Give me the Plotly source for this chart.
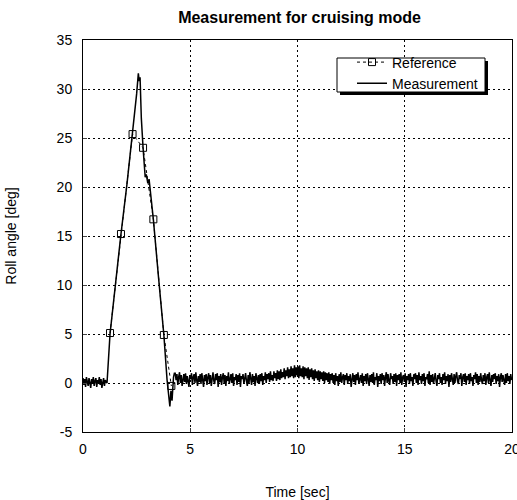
import plotly.graph_objects as go

# ---------------- data ----------------
# Reference (square markers)
ref_t = [1.26, 1.77, 2.31, 2.80, 3.28, 3.77, 4.12]
ref_y = [5.1, 15.2, 25.4, 24.0, 16.7, 4.9, -0.3]

# Measurement: initial rest segment (sampled every 0.04 s from t = 0)
rest_start = 0.0
rest_step = 0.04
rest_y = [0.5, -0.2, 0.4, -0.4, 0.6, 0.0, -0.3, 0.5, 0.1, -0.5, 0.4, -0.1, 0.6, -0.3,
          0.2, 0.5, -0.4, 0.3, 0.0, 0.6, -0.2, 0.4, -0.5, 0.2, 0.5, -0.3, 0.3, 0.1]

# Measurement: manoeuvre segment
man_t = [1.12, 1.26, 1.50, 1.77, 2.05, 2.31, 2.50, 2.58, 2.62, 2.66, 2.72, 2.80,
         2.90, 2.95, 3.02, 3.08, 3.28, 3.52, 3.77, 3.92, 4.00, 4.05, 4.10, 4.15,
         4.22, 4.26]
man_y = [0.0, 5.0, 10.0, 15.2, 20.3, 25.4, 29.5, 31.6, 30.8, 31.2, 27.0, 24.0,
         21.0, 21.3, 20.4, 20.8, 16.7, 10.8, 4.9, 0.3, -1.5, -2.4, -0.8, -1.8,
         0.6, 1.0]

# Measurement: cruising segment (sampled every 0.04 s from t = 4.30)
cruise_start = 4.30
cruise_step = 0.04
cruise_y = [
    1.0, 0.3, 0.9, -0.2, 0.6, 1.1, 0.0, 0.8, -0.3, 0.5, 0.9, 0.1, 1.0, -0.1, 0.7, 0.2, -0.4, 0.8, 0.4, 1.0,
    -0.2, 0.6, 0.9, 0.0, 1.1, 0.3, -0.3, 0.7, 0.1, 0.9, -0.1, 1.0, 0.4, -0.4, 0.8, 0.2, 0.9, -0.2, 0.6, 1.0,
    0.0, 0.8, -0.3, 0.5, 1.1, 0.2, -0.1, 0.9, 0.3, 1.0, -0.4, 0.7, 0.1, 0.9, -0.2, 0.6, 1.0, 0.0, 0.8, -0.3,
    0.7, 0.2, 1.1, -0.1, 0.5, 0.9, 0.0, 1.0, -0.3, 0.6, 0.3, 0.9, -0.2, 0.8, 0.1, 1.0, -0.4, 0.7, 0.4, 0.9,
    -0.1, 0.6, 1.0, 0.2, -0.3, 0.8, 0.0, 1.1, 0.3, -0.2, 0.9, 0.1, 0.7, -0.3, 1.0, 0.4, 0.0, 0.8, -0.1, 0.9,
    0.2, 1.0, -0.2, 0.7, 0.3, 1.1, 0.0, 0.9, 0.4, 1.0, 0.1, 1.2, 0.3, 0.8, 0.2, 1.2, 0.5, 1.0, 0.2, 1.3,
    0.4, 1.2, 0.3, 1.4, 0.5, 1.1, 0.6, 1.5, 0.4, 1.3, 0.7, 1.6, 0.5, 1.4, 0.6, 1.7, 0.7, 1.5, 0.5, 1.8,
    0.6, 1.6, 0.8, 1.7, 0.5, 1.8, 0.7, 1.5, 0.6, 1.7, 0.4, 1.6, 0.7, 1.5, 0.5, 1.6, 0.3, 1.4, 0.6, 1.5,
    0.4, 1.3, 0.2, 1.4, 0.5, 1.2, 0.3, 1.3, 0.1, 1.2, 0.4, 1.1, 0.2, 1.2, 0.0, 1.1, 0.3, 1.0, 0.1, 1.1,
    -0.1, 0.9, 0.3, 1.0, 0.0, 0.8, -0.2, 1.0, 0.2, 0.7, -0.3, 0.9, 0.1, 1.1, 0.0, 0.6, 0.9, -0.2, 0.8, 0.3,
    1.0, -0.1, 0.7, 0.2, 0.9, -0.4, 0.6, 1.0, 0.1, 0.8, -0.2, 0.9, 0.3, 1.1, -0.1, 0.5, 0.8, 0.0, 1.0, -0.3,
    0.7, 0.2, 0.9, -0.1, 1.0, 0.4, -0.3, 0.8, 0.1, 0.9, 0.0, 1.1, -0.2, 0.6, 0.3, 1.0, -0.4, 0.7, 0.2, 0.9,
    -0.1, 1.0, 0.3, 0.8, -0.3, 0.6, 1.1, 0.0, 0.9, 0.2, -0.2, 1.0, 0.4, 0.7, -0.1, 0.9, 0.1, 1.0, -0.3, 0.8,
    0.3, 0.9, 0.0, 1.1, -0.2, 0.6, 0.8, 0.1, 1.0, -0.4, 0.7, 0.3, 0.9, -0.1, 1.0, 0.2, 0.6, -0.3, 0.9, 0.4,
    1.0, 0.0, 0.8, -0.2, 1.1, 0.3, 0.7, -0.1, 0.9, 0.2, 1.0, -0.3, 0.6, 0.4, 0.9, 0.0, 1.2, -0.2, 0.8, 0.1,
    0.9, -0.1, 0.7, 1.0, 0.2, -0.3, 0.8, 0.4, 1.0, 0.0, 0.6, -0.2, 0.9, 0.3, 1.1, -0.1, 0.7, 0.2, 0.9, -0.4,
    0.8, 0.1, 1.0, 0.3, -0.2, 0.9, 0.0, 0.7, 1.1, 0.2, -0.1, 0.8, 0.4, 1.0, -0.3, 0.6, 0.9, 0.1, 1.0, -0.2,
    0.7, 0.3, 0.9, -0.1, 1.0, 0.2, 0.6, -0.3, 0.8, 0.4, 1.1, 0.0, 0.9, -0.2, 0.7, 0.1, 1.0, 0.3, -0.1, 0.8,
    0.2, 1.0, -0.2, 0.6, 0.9, 0.0, 1.1, 0.3, -0.3, 0.8, 0.1, 0.9, 0.4, 1.0, -0.1, 0.7, 0.2, 0.9, -0.4, 0.6,
    1.0, 0.1, 0.8, 0.3, -0.2, 0.9, 0.0, 1.0, 0.2, 0.7, -0.1, 0.9, 0.3,
]

x_ticks = [0, 5, 10, 15, 20]
x_tick_labels = ["0", "5", "10", "15", "20"]
y_ticks = [-5, 0, 5, 10, 15, 20, 25, 30, 35]
y_tick_labels = ["-5", "0", "5", "10", "15", "20", "25", "30", "35"]

# ---------------- assemble ----------------
rest_t = [round(rest_start + rest_step * i, 4) for i in range(len(rest_y))]
cruise_t = [round(cruise_start + cruise_step * i, 4) for i in range(len(cruise_y))]
meas_t = rest_t + man_t + cruise_t
meas_y = rest_y + man_y + cruise_y

FONT = "Liberation Sans, Arial, sans-serif"

fig = go.Figure()
fig.add_trace(go.Scatter(
    x=ref_t, y=ref_y, name="Reference", mode="lines+markers",
    line=dict(color="black", width=1, dash="3px,3px"),
    marker=dict(symbol="square-open", size=7, color="black", line=dict(width=1)),
))
fig.add_trace(go.Scatter(
    x=meas_t, y=meas_y, name="Measurement", mode="lines",
    line=dict(color="black", width=1.5),
))

W, H = 517, 500
ml, mr, mt, mb = 83, 5, 40, 68
pw, ph = W - ml - mr, H - mt - mb

def px2paper(x, y):
    return (x - ml) / pw, 1 - (y - mt) / ph

# legend box + drop shadow
sx0, sy0 = px2paper(340, 61)
sx1, sy1 = px2paper(488, 95)
fig.add_shape(type="rect", xref="paper", yref="paper", x0=sx0, x1=sx1, y0=sy1, y1=sy0,
              fillcolor="black", line=dict(width=0), layer="above")
bx0, by0 = px2paper(337, 58)
bx1, by1 = px2paper(485, 92)
fig.add_shape(type="rect", xref="paper", yref="paper", x0=bx0, x1=bx1, y0=by1, y1=by0,
              fillcolor="white", line=dict(color="black", width=1), layer="above")

lx, ly = px2paper(352, 73)

axis_common = dict(showgrid=True, gridcolor="black", griddash="2px,3px", gridwidth=1,
                   zeroline=False, showline=True, linecolor="black", linewidth=1,
                   mirror=True, ticks="inside", ticklen=4, automargin=False,
                   tickfont=dict(size=14, family=FONT))

fig.update_layout(
    width=W, height=H,
    margin=dict(l=ml, r=mr, t=mt, b=mb),
    paper_bgcolor="white", plot_bgcolor="white",
    font=dict(family=FONT, size=14, color="black"),
    title=dict(text="<b>Measurement for cruising mode</b>", x=(ml + pw / 2 + 2) / W,
               xanchor="center", y=1 - 17 / H, yanchor="middle",
               font=dict(size=16, family=FONT)),
    showlegend=True,
    legend=dict(x=lx, y=ly, xanchor="left", yanchor="middle",
                bgcolor="rgba(0,0,0,0)", borderwidth=0,
                font=dict(size=14, family=FONT), tracegroupgap=0),
    xaxis=dict(range=[0, 20], tickvals=x_ticks, ticktext=x_tick_labels,
               ticklabeloverflow="allow", ticklabelstandoff=4,
               title=dict(text="Time [sec]", standoff=32, font=dict(size=14)),
               **axis_common),
    yaxis=dict(range=[-5, 35], tickvals=y_ticks, ticktext=y_tick_labels,
               ticklabelstandoff=7,
               title=dict(text="Roll angle [deg]", standoff=36, font=dict(size=14)),
               **axis_common),
)

fig.write_html(
    "out.html",
    config={"displayModeBar": False},
    post_script="document.body.style.margin='0';document.body.style.overflow='hidden';",
)
